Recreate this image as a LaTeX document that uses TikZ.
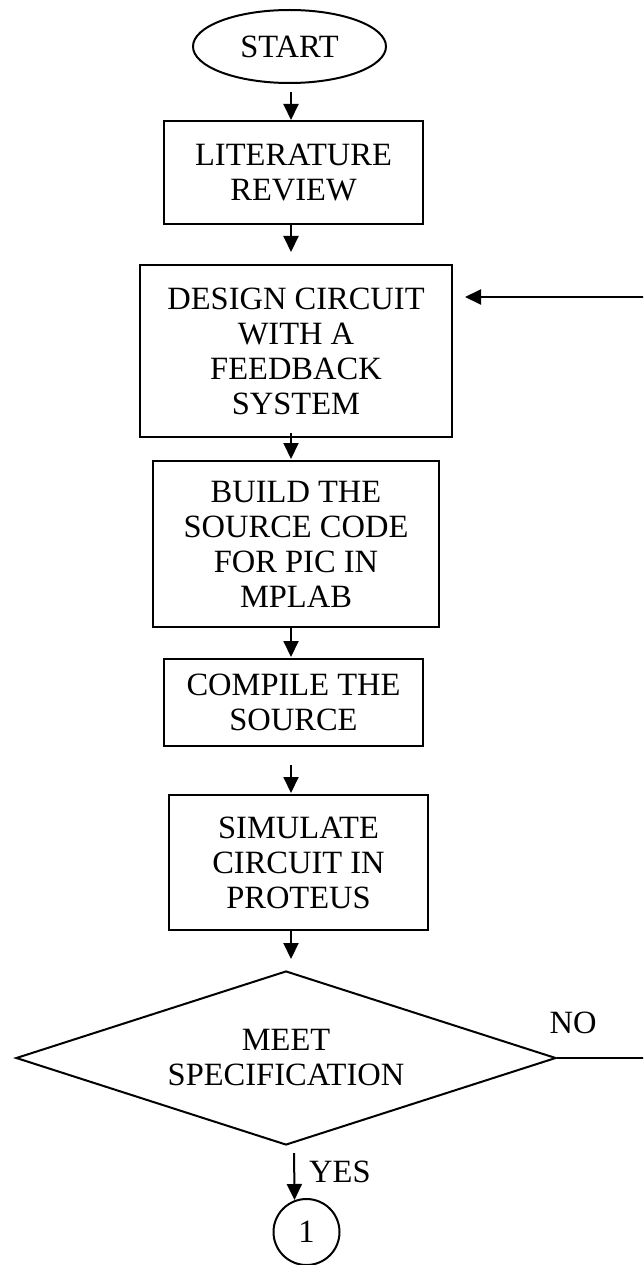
\documentclass[tikz,border=0pt]{standalone}
\usepackage{fontspec}
\setmainfont{Liberation Serif}
\usetikzlibrary{arrows.meta,shapes.geometric,calc}
\begin{document}
\begin{tikzpicture}[x=1pt,y=-1pt,
  every node/.style={font=\fontsize{32.5}{35}\selectfont},
  procbox/.style={draw,line width=2pt,rectangle,align=center,inner sep=0pt},
  arr/.style={line width=2pt,-{Triangle[length=16pt,width=15pt]}},
  plain/.style={line width=2pt}]
\useasboundingbox (0,0) rectangle (643,1265);
\coordinate (axis) at (291,0);
\node[draw,ellipse,line width=2pt,minimum width=193pt,minimum height=73pt,inner sep=0pt] (start) at (289.5,46.5) {START};
\node[procbox,minimum width=259pt,minimum height=103pt] (lit) at (293.5,172.5) {LITERATURE\\REVIEW};
\node[procbox,minimum width=312pt,minimum height=172pt] (design) at (296,351) {DESIGN CIRCUIT\\WITH A\\FEEDBACK\\SYSTEM};
\node[procbox,minimum width=286pt,minimum height=166pt] (build) at (296,544) {BUILD THE\\SOURCE CODE\\FOR PIC IN\\MPLAB};
\node[procbox,minimum width=259pt,minimum height=87pt] (compile) at (293.5,702.5) {COMPILE THE\\SOURCE};
\node[procbox,minimum width=259pt,minimum height=135pt] (sim) at (298.5,862.5) {SIMULATE\\CIRCUIT IN\\PROTEUS};
\node[draw,diamond,line width=2pt,aspect=3.1,minimum width=540pt,minimum height=174pt,inner sep=0pt,align=center] (dec) at (286,1058) {MEET\\SPECIFICATION};
\node[draw,circle,line width=2pt,minimum size=66pt,inner sep=0pt] (one) at (306.5,1232) {1};
\node[anchor=west,inner sep=0pt] (yes) at (309,1172) {YES};
\node[inner sep=0pt] (no) at (573,1023) {NO};
\coordinate (fbtip) at (465,297);
\coordinate (fbcorner) at (652,297);
\draw[arr,shorten <=8pt] (start.south -| axis) -- (lit.north -| axis);
\draw[arr,shorten >=12pt] (lit.south -| axis) -- (design.north -| axis);
\draw[arr,shorten <=-5pt,shorten >=1pt] (design.south -| axis) -- (build.north -| axis);
\draw[arr,shorten >=1pt] (build.south -| axis) -- (compile.north -| axis);
\draw[arr,shorten <=18pt,shorten >=1pt] (compile.south -| axis) -- (sim.north -| axis);
\draw[arr,shorten >=11pt] (sim.south -| axis) -- (dec.north -| axis);
\draw[arr,shorten <=7pt] ($(dec.south)+(8,0)$) -- ($(one.north)+(-12,2)$);
\begin{scope}
\clip (0,0) rectangle (643,1265);
\draw[arr] (dec.east) -- (dec.east -| fbcorner) -- (fbcorner) -- (fbtip);
\end{scope}
\end{tikzpicture}
\end{document}
